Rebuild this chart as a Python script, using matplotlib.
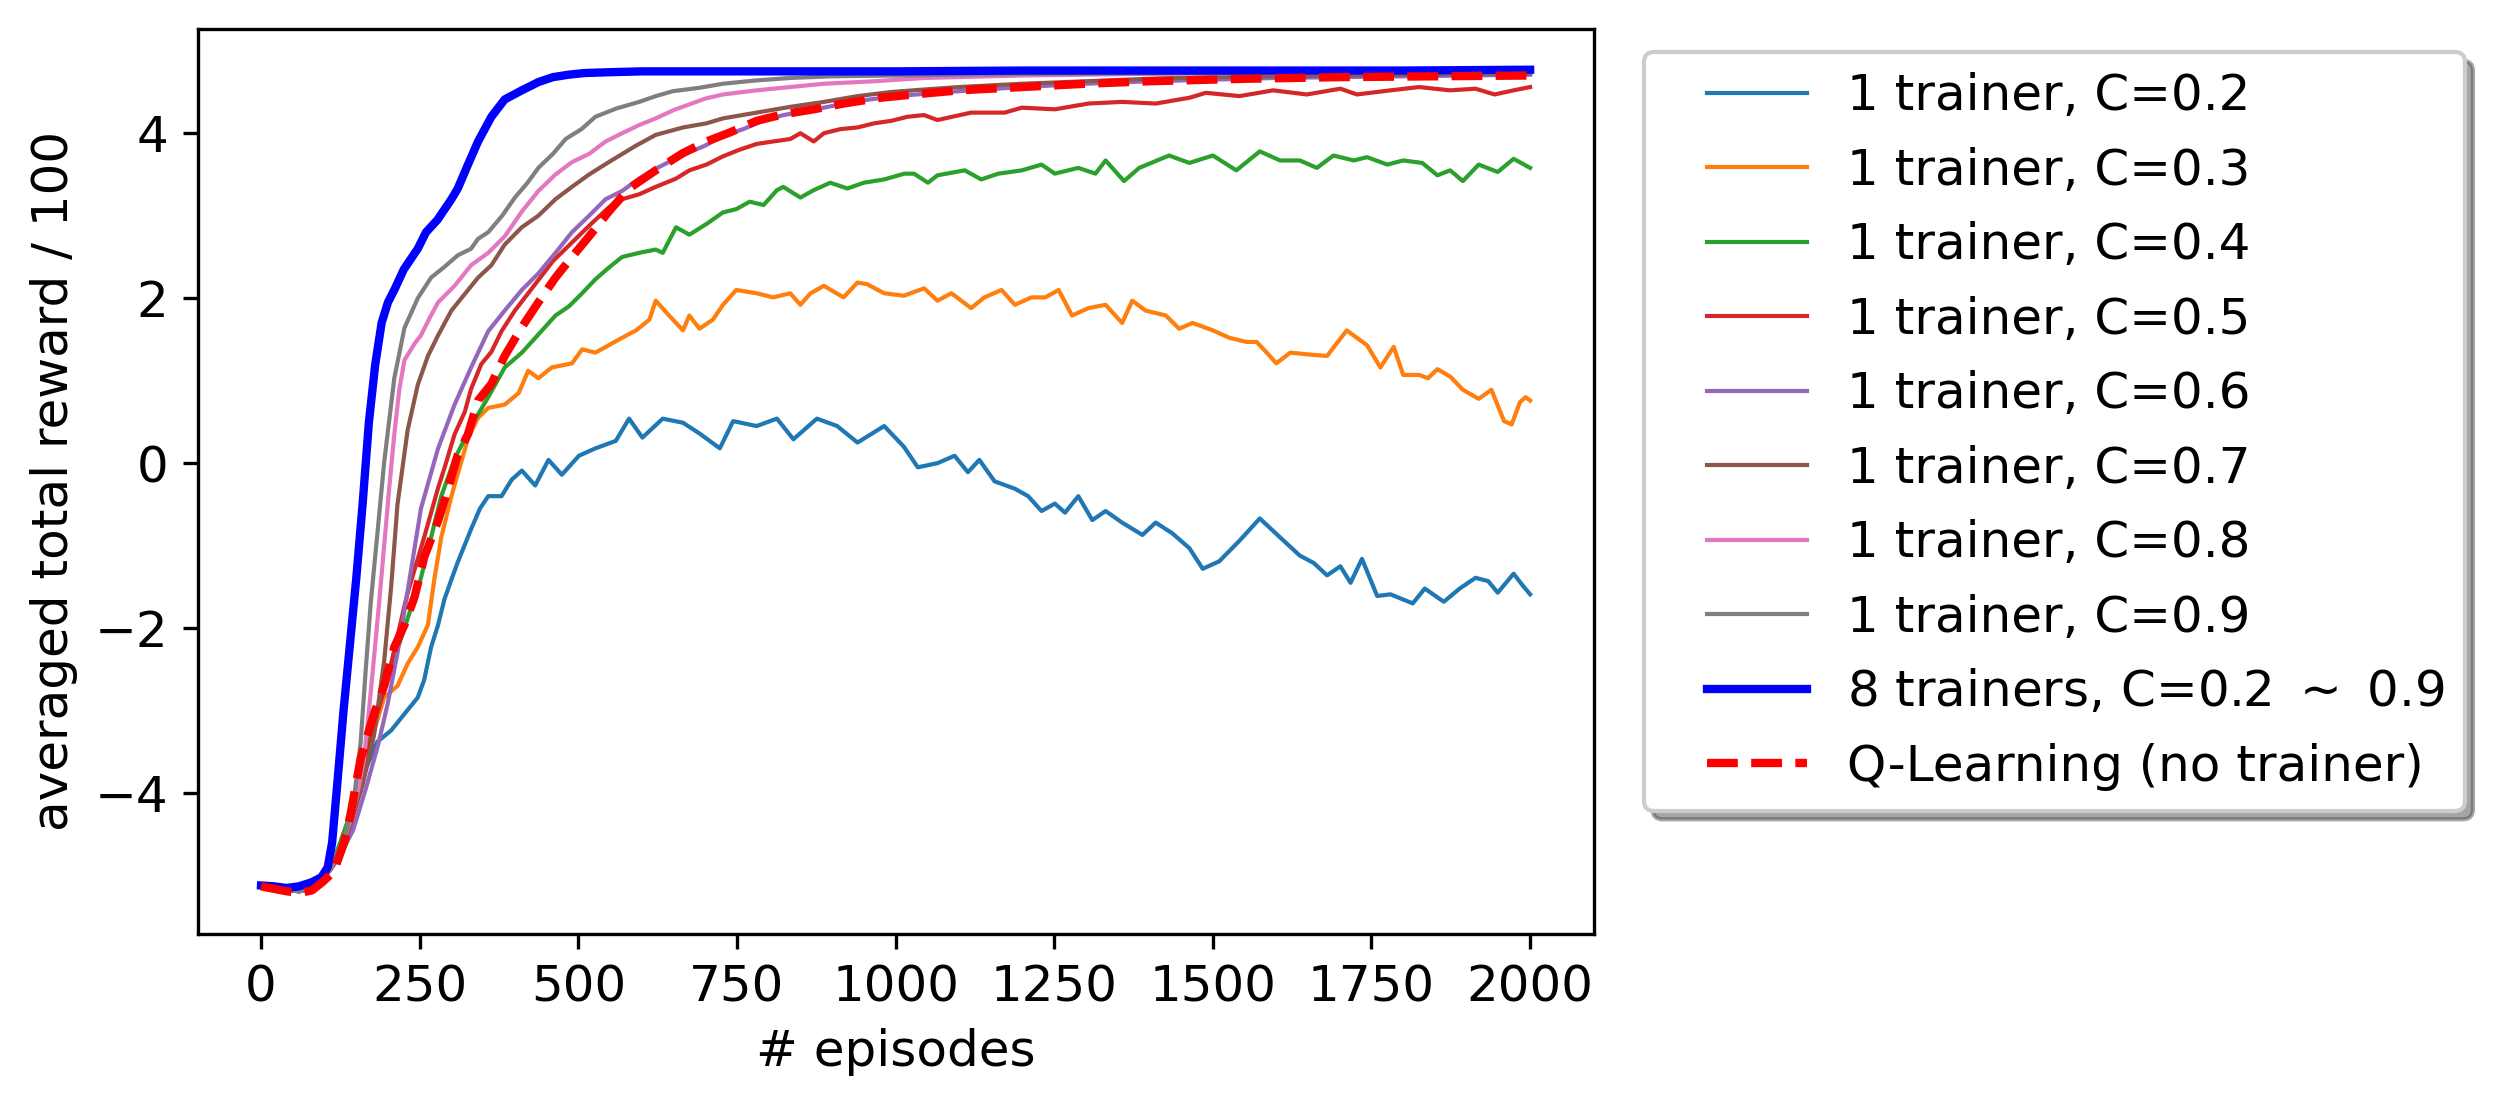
import matplotlib
matplotlib.use("Agg")
import matplotlib.pyplot as plt
from matplotlib.legend_handler import HandlerLine2D
from matplotlib.lines import Line2D

# ---------------- data ----------------
ep_c02 = [0,20,40,60,80,95,110,125,141,155,168,183,205,226,247,257,268,279,289,300,310,331,345,358,379,395,411,432,453,474,501,527,559,580,601,633,665,691,723,744,781,813,839,876,908,940,982,1013,1035,1066,1093,1114,1132,1156,1188,1209,1230,1251,1267,1288,1310,1331,1357,1389,1410,1436,1463,1484,1510,1542,1574,1606,1637,1659,1680,1701,1717,1735,1759,1780,1815,1834,1864,1889,1914,1934,1949,1974,1988,2000]
val_c02 = [-5.12,-5.15,-5.17,-5.19,-5.16,-5.08,-4.9,-4.6,-4.25,-3.9,-3.65,-3.38,-3.24,-3.04,-2.84,-2.63,-2.23,-1.96,-1.65,-1.41,-1.2,-0.8,-0.55,-0.4,-0.4,-0.2,-0.09,-0.27,0.04,-0.14,0.09,0.18,0.27,0.54,0.31,0.54,0.49,0.36,0.18,0.51,0.45,0.54,0.29,0.54,0.45,0.25,0.45,0.2,-0.05,0.0,0.09,-0.11,0.04,-0.22,-0.31,-0.40,-0.58,-0.49,-0.60,-0.40,-0.69,-0.58,-0.72,-0.87,-0.72,-0.85,-1.03,-1.28,-1.19,-0.94,-0.67,-0.90,-1.12,-1.21,-1.36,-1.25,-1.45,-1.16,-1.61,-1.59,-1.70,-1.52,-1.68,-1.52,-1.39,-1.43,-1.57,-1.34,-1.48,-1.59]

ep_c03 = [0,20,40,60,80,95,110,125,141,160,180,194,215,231,247,263,273,284,300,315,326,342,358,384,406,421,437,458,490,506,527,548,569,591,612,622,643,665,675,691,712,728,749,781,807,834,850,866,887,918,940,955,982,1013,1045,1066,1088,1119,1140,1167,1188,1214,1236,1257,1278,1304,1331,1357,1373,1394,1426,1447,1468,1500,1526,1553,1569,1585,1600,1622,1648,1680,1711,1743,1764,1785,1800,1825,1839,1854,1874,1894,1919,1939,1959,1971,1984,1993,2000]
val_c03 = [-5.12,-5.15,-5.17,-5.19,-5.16,-5.08,-4.9,-4.6,-4.25,-3.7,-3.2,-2.84,-2.7,-2.43,-2.23,-1.96,-1.41,-0.9,-0.4,0.0,0.3,0.55,0.67,0.71,0.85,1.12,1.03,1.16,1.21,1.38,1.34,1.43,1.52,1.61,1.74,1.97,1.79,1.61,1.79,1.63,1.74,1.92,2.10,2.06,2.01,2.06,1.92,2.06,2.15,2.01,2.19,2.17,2.06,2.03,2.12,1.97,2.06,1.88,2.01,2.10,1.92,2.01,2.01,2.10,1.79,1.88,1.92,1.70,1.97,1.85,1.79,1.63,1.70,1.61,1.52,1.47,1.47,1.34,1.21,1.34,1.32,1.30,1.61,1.43,1.16,1.41,1.07,1.07,1.03,1.14,1.05,0.89,0.78,0.89,0.51,0.47,0.74,0.80,0.76]

ep_c04 = [0,20,40,60,80,95,110,125,141,160,180,200,226,252,268,284,305,331,358,384,411,437,464,485,506,527,548,569,596,622,633,654,675,702,728,749,770,792,813,823,850,871,897,924,950,982,1014,1029,1051,1066,1109,1135,1162,1199,1230,1251,1288,1315,1331,1360,1384,1431,1463,1500,1537,1574,1606,1637,1664,1690,1722,1743,1775,1800,1830,1854,1874,1894,1919,1949,1974,2000]
val_c04 = [-5.12,-5.15,-5.17,-5.19,-5.16,-5.08,-4.9,-4.6,-4.25,-3.6,-3.1,-2.6,-2.0,-1.39,-0.9,-0.4,0.05,0.45,0.8,1.16,1.34,1.56,1.79,1.9,2.06,2.23,2.37,2.5,2.55,2.59,2.55,2.86,2.77,2.9,3.04,3.08,3.17,3.13,3.31,3.35,3.22,3.31,3.40,3.33,3.40,3.44,3.51,3.51,3.40,3.49,3.55,3.44,3.51,3.55,3.62,3.51,3.58,3.51,3.67,3.42,3.58,3.73,3.64,3.73,3.55,3.78,3.67,3.67,3.58,3.73,3.67,3.71,3.62,3.67,3.64,3.49,3.55,3.42,3.62,3.53,3.69,3.58]

ep_c05 = [0,20,40,60,80,95,110,125,141,162,183,205,230,257,279,289,305,321,331,347,363,379,400,420,440,460,480,500,520,548,569,596,622,654,675,702,728,754,781,807,834,850,871,887,913,940,966,993,1019,1045,1066,1119,1172,1199,1251,1304,1357,1410,1463,1489,1542,1595,1648,1701,1727,1780,1825,1874,1914,1944,1974,2000]
val_c05 = [-5.12,-5.15,-5.17,-5.19,-5.16,-5.08,-4.9,-4.7,-4.4,-3.72,-3.04,-2.43,-1.6,-0.9,-0.3,-0.06,0.35,0.62,0.9,1.2,1.35,1.6,1.85,2.05,2.25,2.45,2.6,2.75,2.9,3.1,3.2,3.26,3.35,3.45,3.55,3.62,3.72,3.8,3.87,3.9,3.93,4.0,3.9,4.0,4.05,4.07,4.12,4.15,4.2,4.22,4.16,4.25,4.25,4.31,4.29,4.36,4.38,4.36,4.43,4.49,4.45,4.52,4.47,4.54,4.47,4.52,4.56,4.52,4.54,4.47,4.52,4.56]

ep_c06 = [0,20,40,60,80,95,110,125,145,165,185,200,215,230,252,279,305,331,358,384,411,437,464,490,517,543,569,596,622,650,675,700,728,760,790,823,860,900,950,1000,1050,1100,1200,1300,1400,1500,1600,1700,1800,1900,2000]
val_c06 = [-5.12,-5.15,-5.17,-5.19,-5.16,-5.08,-4.92,-4.75,-4.45,-3.95,-3.4,-2.9,-2.3,-1.6,-0.55,0.18,0.71,1.16,1.6,1.85,2.1,2.3,2.55,2.8,3.0,3.2,3.3,3.45,3.57,3.68,3.77,3.85,3.97,4.05,4.15,4.22,4.27,4.33,4.4,4.45,4.48,4.51,4.56,4.6,4.63,4.65,4.67,4.68,4.69,4.7,4.71]

ep_c07 = [0,20,40,60,80,95,110,125,140,160,178,194,205,215,231,247,263,279,300,321,342,363,384,411,437,464,490,517,548,591,622,665,702,728,781,834,887,940,993,1045,1100,1200,1300,1400,1500,1600,1700,1800,1900,2000]
val_c07 = [-5.12,-5.15,-5.17,-5.19,-5.16,-5.08,-4.92,-4.75,-4.4,-3.9,-3.3,-2.4,-1.5,-0.5,0.4,0.95,1.3,1.55,1.85,2.05,2.25,2.4,2.65,2.86,3.0,3.2,3.35,3.5,3.65,3.85,3.98,4.07,4.12,4.18,4.25,4.32,4.38,4.45,4.5,4.53,4.56,4.6,4.63,4.66,4.68,4.69,4.7,4.71,4.72,4.72]

ep_c08 = [0,20,40,60,80,95,110,125,140,152,162,170,178,186,194,202,210,218,226,242,252,265,279,292,305,331,358,384,411,437,464,490,517,543,569,596,622,650,675,700,728,781,834,887,966,1045,1200,1400,1600,1800,2000]
val_c08 = [-5.12,-5.15,-5.17,-5.19,-5.16,-5.08,-4.9,-4.7,-4.35,-4.0,-3.6,-3.0,-2.36,-1.7,-1.0,-0.3,0.35,0.9,1.25,1.45,1.55,1.75,1.95,2.05,2.15,2.4,2.55,2.75,3.05,3.3,3.5,3.65,3.75,3.9,4.0,4.1,4.18,4.28,4.35,4.42,4.47,4.52,4.56,4.6,4.63,4.67,4.7,4.72,4.73,4.74,4.74]

ep_c09 = [0,20,40,60,80,95,110,125,135,146,157,165,173,184,194,210,226,247,268,289,310,331,342,358,380,400,420,437,460,480,505,527,560,596,622,649,690,728,780,834,900,1000,1200,1500,1800,2000]
val_c09 = [-5.12,-5.15,-5.17,-5.19,-5.16,-5.08,-4.88,-4.65,-4.45,-4.1,-3.38,-2.5,-1.68,-0.8,0.01,1.03,1.64,2.0,2.25,2.38,2.52,2.6,2.72,2.8,3.0,3.22,3.4,3.58,3.75,3.93,4.05,4.2,4.3,4.38,4.45,4.51,4.55,4.6,4.64,4.67,4.69,4.7,4.72,4.73,4.74,4.74]

ep_multi = [0,20,40,60,80,95,105,112,120,130,140,150,160,170,180,190,200,210,225,247,260,278,300,310,325,342,363,384,411,437,460,485,510,550,600,700,800,1000,1200,1500,1800,2000]
val_multi = [-5.12,-5.13,-5.15,-5.13,-5.08,-5.02,-4.9,-4.6,-3.9,-3.0,-2.2,-1.4,-0.5,0.5,1.2,1.7,1.95,2.1,2.35,2.6,2.8,2.95,3.2,3.33,3.6,3.9,4.2,4.41,4.52,4.62,4.68,4.71,4.73,4.74,4.75,4.75,4.75,4.75,4.76,4.76,4.76,4.77]

ep_q = [0,20,40,60,80,95,105,115,131,141,157,178,194,210,226,242,257,279,294,310,326,342,363,384,411,437,464,490,517,548,580,622,665,702,739,781,823,871,918,976,1029,1100,1200,1300,1400,1550,1700,1850,2000]
val_q = [-5.13,-5.16,-5.19,-5.21,-5.18,-5.09,-5.02,-4.94,-4.6,-4.26,-3.58,-3.04,-2.7,-2.23,-1.96,-1.62,-1.14,-0.7,-0.33,0.1,0.35,0.76,0.96,1.3,1.65,1.95,2.25,2.5,2.75,3.05,3.33,3.55,3.76,3.9,4.01,4.15,4.23,4.29,4.36,4.43,4.47,4.52,4.56,4.6,4.63,4.66,4.68,4.69,4.7]

labels = ["1 trainer, C=0.2", "1 trainer, C=0.3", "1 trainer, C=0.4", "1 trainer, C=0.5",
          "1 trainer, C=0.6", "1 trainer, C=0.7", "1 trainer, C=0.8", "1 trainer, C=0.9",
          r"8 trainers, C=0.2 $\sim$ 0.9", "Q-Learning (no trainer)"]

single = [(ep_c02, val_c02), (ep_c03, val_c03), (ep_c04, val_c04), (ep_c05, val_c05),
          (ep_c06, val_c06), (ep_c07, val_c07), (ep_c08, val_c08), (ep_c09, val_c09)]


# legend handler: line drawn only in the right part of a longer handle box
class RightLine(HandlerLine2D):
    def __init__(self, extra, **kw):
        super().__init__(**kw)
        self.extra = extra

    def create_artists(self, legend, orig_handle, xdescent, ydescent, width,
                       height, fontsize, trans):
        arts = super().create_artists(legend, orig_handle, xdescent, ydescent,
                                      width, height, fontsize, trans)
        for a in arts:
            if isinstance(a, Line2D):
                xd = list(a.get_xdata())
                if len(xd) >= 2:
                    xd[0] = xd[0] + self.extra * fontsize
                    a.set_xdata(xd)
        return arts


# ---------------- plot ----------------
plt.rcParams['font.family'] = ['DejaVu Sans']
plt.rcParams['font.size'] = 12

fig = plt.figure(figsize=(2495/300, 1107/300), dpi=300)
ax = fig.add_axes([0.0792, 0.1562, 0.5595, 0.818])

for i, (xs, ys) in enumerate(single):
    ax.plot(xs, ys, color=f"C{i}", lw=1.0, label=labels[i])
ax.plot(ep_multi, val_multi, color="b", lw=2.0, label=labels[8])
ax.plot(ep_q, val_q, color="r", lw=2.0, ls="--", label=labels[9])

ax.set_xlabel("# episodes", fontsize=12)
ax.set_ylabel("averaged total reward / 100", fontsize=12)
ax.tick_params(labelsize=12)
ax.set_xticks([0, 250, 500, 750, 1000, 1250, 1500, 1750, 2000])
ax.set_yticks([-4, -2, 0, 2, 4])

extra = 0.85
ax.legend(loc="upper left", bbox_to_anchor=(0.659, 0.9526), bbox_transform=fig.transFigure,
          borderaxespad=0, shadow=True, fontsize=12, labelspacing=0.53,
          handlelength=2.0 + extra,
          handler_map={Line2D: RightLine(extra)})

fig.savefig("out.png", dpi=300)
